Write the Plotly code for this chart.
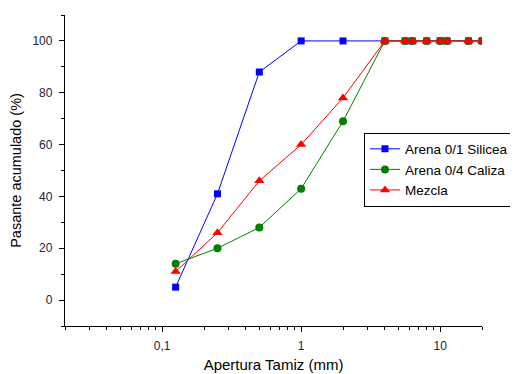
import plotly.graph_objects as go

sizes = [0.125, 0.25, 0.5, 1, 2, 4, 5.6, 6.3, 8, 10, 11.2, 16, 20]
arena_01_silicea = [5, 41, 88, 100, 100, 100, 100, 100, 100, 100, 100, 100, 100]
arena_04_caliza = [14, 20, 28, 43, 69, 100, 100, 100, 100, 100, 100, 100, 100]
mezcla = [11, 26, 46, 60, 78, 100, 100, 100, 100, 100, 100, 100, 100]

x_tickvals = [0.1, 1, 10]
x_ticktext = ["0,1", "1", "10"]
y_tickvals = [0, 20, 40, 60, 80, 100]

fig = go.Figure()
fig.add_trace(go.Scatter(x=sizes, y=arena_01_silicea, mode="lines+markers",
                         name="Arena 0/1 Silicea",
                         line=dict(color="#0000ff", width=1),
                         marker=dict(symbol="square", size=7, color="#0000ff")))
fig.add_trace(go.Scatter(x=sizes, y=arena_04_caliza, mode="lines+markers",
                         name="Arena 0/4 Caliza",
                         line=dict(color="#008000", width=1),
                         marker=dict(symbol="circle", size=8, color="#008000")))
fig.add_trace(go.Scatter(x=sizes, y=mezcla, mode="lines+markers",
                         name="Mezcla",
                         line=dict(color="#ff0000", width=1),
                         marker=dict(symbol="triangle-up", size=9, color="#ff0000")))

minor_x = []
for d in [0.01, 0.1, 1, 10]:
    for k in range(2, 10):
        v = d * k
        if 0.02 <= v <= 20:
            minor_x.append(v)

fig.update_layout(
    width=510, height=366,
    margin=dict(l=57, r=36, t=7, b=48, autoexpand=False),
    paper_bgcolor="white", plot_bgcolor="white",
    font=dict(family="Liberation Sans, Arial, sans-serif", color="#000"),
    showlegend=True,
    legend=dict(x=0.717, y=0.622, xanchor="left", yanchor="top",
                bordercolor="#000", borderwidth=1, bgcolor="white",
                font=dict(size=13.5, color="#000"),
                tracegroupgap=0, itemwidth=30),
    xaxis=dict(type="log", range=[-1.69897, 1.30103], automargin=False,
               tickvals=x_tickvals, ticktext=x_ticktext,
               ticks="outside", ticklen=5, tickcolor="#000", tickwidth=1,
               ticklabelstandoff=3,
               showline=True, linecolor="#000", linewidth=1.3,
               showgrid=False, zeroline=False,
               tickfont=dict(size=12, color="#222244"),
               minor=dict(tickvals=minor_x, ticks="outside", ticklen=3,
                          tickcolor="#000", showgrid=False),
               title=dict(text="Apertura Tamiz (mm)", font=dict(size=15), standoff=7)),
    yaxis=dict(range=[-10, 110], automargin=False,
               tickmode="array", tickvals=y_tickvals,
               ticks="outside", ticklen=5, tickcolor="#000", tickwidth=1,
               ticklabelstandoff=4,
               showline=True, linecolor="#000", linewidth=1.3,
               showgrid=False, zeroline=False,
               tickfont=dict(size=12, color="#222244"),
               minor=dict(tickvals=[-10, 10, 30, 50, 70, 90, 110], ticks="outside",
                          ticklen=3, tickcolor="#000", showgrid=False),
               title=dict(text="Pasante acumulado (%)", font=dict(size=14.5), standoff=9)),
)

fig.write_html("out.html")
